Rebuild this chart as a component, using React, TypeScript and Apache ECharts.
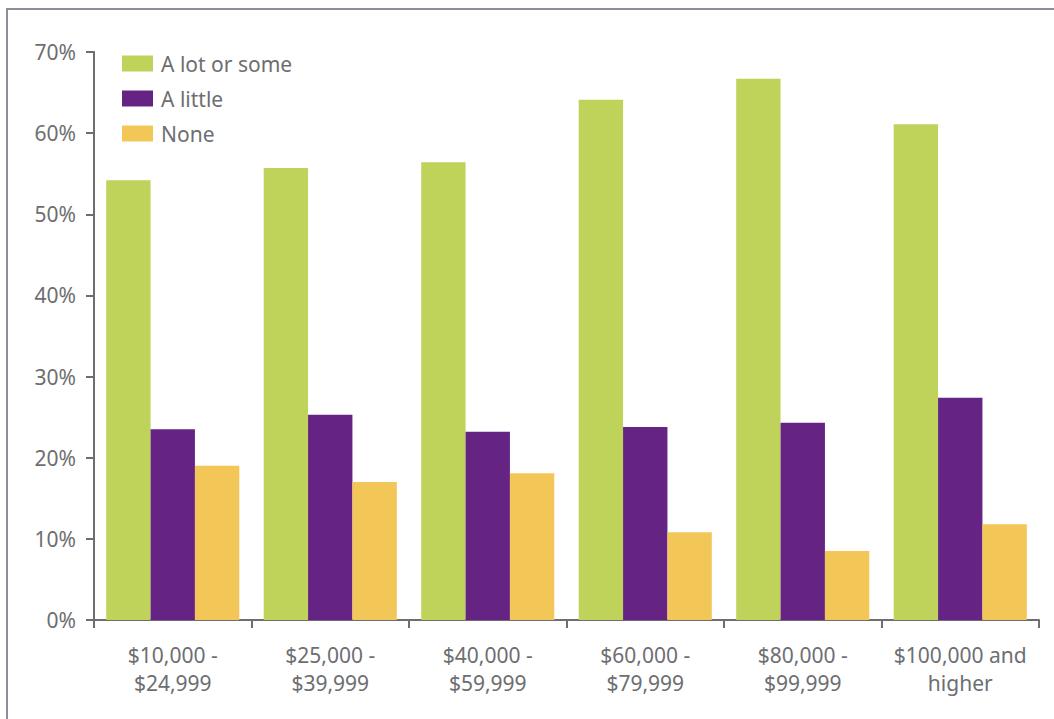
import React, { useEffect, useRef } from "react";
import * as echarts from "echarts";

const categories = ["$10,000 -\n$24,999", "$25,000 -\n$39,999", "$40,000 -\n$59,999", "$60,000 -\n$79,999", "$80,000 -\n$99,999", "$100,000 and\nhigher"];
const seriesNames = ["A lot or some", "A little", "None"];
const aLotOrSome = [54.2, 55.7, 56.4, 64.1, 66.7, 61.1];
const aLittle = [23.5, 25.3, 23.2, 23.8, 24.3, 27.4];
const none = [19.0, 17.0, 18.1, 10.8, 8.5, 11.8];
const colors = ["#bfd35a", "#652483", "#f3c658"];

export default function App() {
  const ref = useRef<HTMLDivElement>(null);
  useEffect(() => {
    const chart = echarts.init(ref.current!, null, { renderer: "svg" });
    const font = "Noto Sans";
    const textColor = "#6d6e71";
    chart.setOption({
      animation: false,
      backgroundColor: "#ffffff",
      textStyle: { fontFamily: font },
      legend: {
        orient: "vertical",
        left: 117,
        top: 48,
        itemWidth: 31,
        itemHeight: 16,
        itemGap: 14,
        icon: "rect",
        textStyle: { fontFamily: font, fontSize: 21, color: textColor, padding: [0, 0, 0, 3] },
        data: seriesNames,
      },
      grid: { left: 94, right: 15, top: 52, bottom: 99, containLabel: false },
      xAxis: {
        type: "category",
        data: categories,
        axisLine: { lineStyle: { color: textColor, width: 2 } },
        axisTick: { show: true, interval: 0, length: 8, lineStyle: { color: textColor, width: 2 } },
        axisLabel: { interval: 0, color: textColor, fontFamily: font, fontSize: 21, lineHeight: 28, margin: 21 },
      },
      yAxis: {
        type: "value",
        min: 0,
        max: 70,
        interval: 10,
        splitLine: { show: false },
        axisLine: { show: true, lineStyle: { color: textColor, width: 2 } },
        axisTick: { show: true, length: 8, lineStyle: { color: textColor, width: 2 } },
        axisLabel: { color: textColor, fontFamily: font, fontSize: 21, margin: 18, formatter: "{value}%" },
      },
      series: [aLotOrSome, aLittle, none].map((d, i) => ({
        name: seriesNames[i],
        type: "bar",
        data: d,
        barGap: "0%",
        barCategoryGap: "15.5%",
        itemStyle: { color: colors[i] },
      })),
      graphic: [
        { type: "line", shape: { x1: 7, y1: 9, x2: 7, y2: 719 }, style: { stroke: "#8e8e9a", lineWidth: 2 } },
        { type: "line", shape: { x1: 6, y1: 9, x2: 1054, y2: 9 }, style: { stroke: "#8e8e9a", lineWidth: 2 } },
      ],
    });
    return () => chart.dispose();
  }, []);
  return <div ref={ref} style={{ position: "fixed", left: 0, top: 0, width: 1054, height: 719 }} />;
}
